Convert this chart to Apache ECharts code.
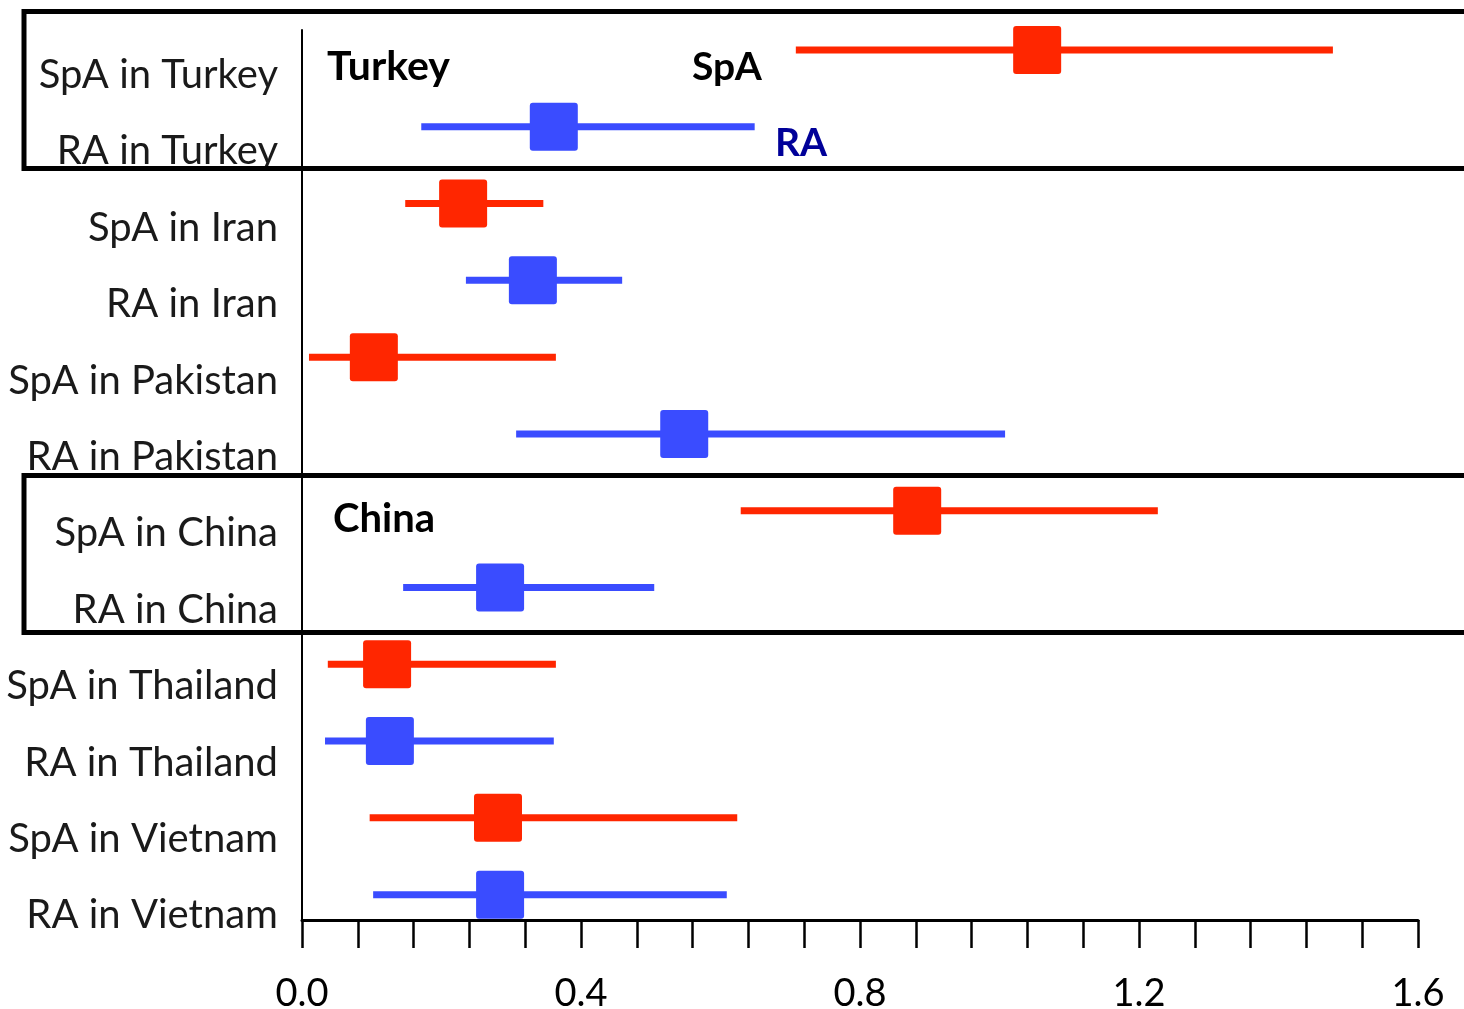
<!DOCTYPE html>
<html>
<head>
<meta charset="utf-8">
<script src="https://cdn.jsdelivr.net/npm/echarts@6/dist/echarts.min.js"></script>
<style>html,body{margin:0;padding:0;background:#fff}#c{width:1464px;height:1009px}</style>
</head>
<body>
<div id="c"></div>
<script>
const categories = ['SpA in Turkey','RA in Turkey','SpA in Iran','RA in Iran','SpA in Pakistan','RA in Pakistan','SpA in China','RA in China','SpA in Thailand','RA in Thailand','SpA in Vietnam','RA in Vietnam'];
const diseases = ['SpA','RA','SpA','RA','SpA','RA','SpA','RA','SpA','RA','SpA','RA'];
const estimates = [1.054, 0.361, 0.231, 0.331, 0.103, 0.548, 0.882, 0.284, 0.122, 0.126, 0.281, 0.284];
const lower = [0.708, 0.171, 0.148, 0.235, 0.010, 0.307, 0.629, 0.145, 0.037, 0.033, 0.097, 0.102];
const upper = [1.478, 0.649, 0.346, 0.459, 0.364, 1.008, 1.227, 0.505, 0.364, 0.361, 0.624, 0.609];
const xTicks = [0.0, 0.4, 0.8, 1.2, 1.6];

const COLORS = {SpA: '#FF2600', RA: '#3A4CFF'};
const FONT = 'Lato';

const chart = echarts.init(document.getElementById('c'));
const data = categories.map((c, i) => [i, lower[i], estimates[i], upper[i], diseases[i]]);

chart.setOption({
  animation: false,
  backgroundColor: '#fff',
  grid: [
    {left: 302, right: 46, top: 30, bottom: 89, outerBoundsMode: 'none', containLabel: false},
    {left: 302, right: 46, top: 36.8, height: 916.8, outerBoundsMode: 'none', containLabel: false}
  ],
  xAxis: [
    {
      type: 'value', gridIndex: 0, min: 0, max: 1.6, interval: 0.08,
      axisLine: {show: true, onZero: false, lineStyle: {color: '#000', width: 3}},
      axisTick: {show: true, length: 28, lineStyle: {color: '#000', width: 2.5}},
      splitLine: {show: false},
      axisLabel: {
        margin: 55, fontFamily: FONT, fontSize: 38, color: '#000',
        formatter: function (v) {
          const r = Math.round(v * 100) / 100;
          return xTicks.some(t => Math.abs(t - r) < 1e-6) ? r.toFixed(1) : '';
        }
      }
    },
    {type: 'value', gridIndex: 1, min: 0, max: 1.6, show: false}
  ],
  yAxis: [
    {
      type: 'value', gridIndex: 0, inverse: true, min: -0.26, max: 11.33,
      axisLine: {show: true, onZero: false, lineStyle: {color: '#000', width: 2}},
      axisTick: {show: false}, axisLabel: {show: false}, splitLine: {show: false}
    },
    {
      type: 'category', gridIndex: 1, inverse: true, data: categories,
      axisLine: {show: false}, axisTick: {show: false}, splitLine: {show: false},
      axisLabel: {margin: 24, fontFamily: FONT, fontSize: 40, color: '#1a1a1a'}
    }
  ],
  series: [{
    type: 'custom',
    xAxisIndex: 0, yAxisIndex: 0,
    data: data,
    encode: {x: [1, 2, 3], y: 0},
    renderItem: function (params, api) {
      const i = api.value(0);
      const pLo = api.coord([api.value(1), i]);
      const pMid = api.coord([api.value(2), i]);
      const pHi = api.coord([api.value(3), i]);
      const color = COLORS[data[params.dataIndex][4]];
      const s = 48;
      return {
        type: 'group',
        children: [
          {type: 'line', shape: {x1: pLo[0], y1: pLo[1], x2: pHi[0], y2: pHi[1]}, style: {stroke: color, lineWidth: 7}},
          {type: 'rect', shape: {x: pMid[0] - s / 2, y: pMid[1] - s / 2, width: s, height: s, r: 3}, style: {fill: color}}
        ]
      };
    }
  }],
  graphic: [
    {type: 'rect', shape: {x: 24, y: 11.5, width: 1460, height: 157}, style: {fill: 'none', stroke: '#000', lineWidth: 5}, z: 10},
    {type: 'rect', shape: {x: 24, y: 475.5, width: 1460, height: 157}, style: {fill: 'none', stroke: '#000', lineWidth: 5}, z: 10},
    {type: 'text', x: 327, y: 67, style: {text: 'Turkey', font: 'bold 41px ' + FONT, fill: '#000', verticalAlign: 'middle'}, z: 10},
    {type: 'text', x: 692, y: 67, style: {text: 'SpA', font: 'bold 39px ' + FONT, fill: '#000', verticalAlign: 'middle'}, z: 10},
    {type: 'text', x: 775, y: 143, style: {text: 'RA', font: 'bold 39px ' + FONT, fill: '#000099', verticalAlign: 'middle'}, z: 10},
    {type: 'text', x: 333, y: 519, style: {text: 'China', font: 'bold 40px ' + FONT, fill: '#000', verticalAlign: 'middle'}, z: 10}
  ]
});
</script>
</body>
</html>
